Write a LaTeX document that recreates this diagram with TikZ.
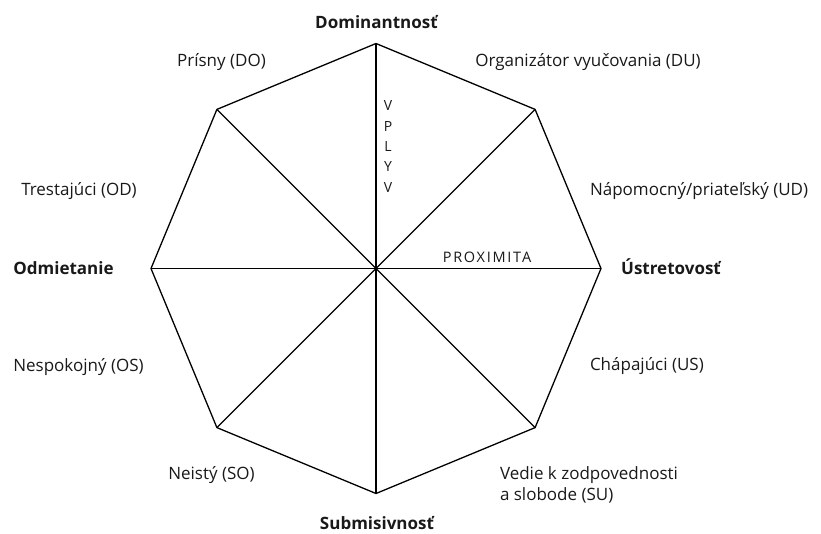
\documentclass[tikz,border=0pt]{standalone}
\usepackage{fontspec}
\setmainfont{Open Sans}
\newfontfamily\spacedfont[LetterSpace=12]{Open Sans}
\begin{document}
\begin{tikzpicture}[x=1pt,y=-1pt,
  edge/.style={line width=1.3pt,draw=black},
  lbl/.style={inner sep=0pt,outer sep=0pt,text=black!90,font=\fontsize{17}{21}\selectfont},
  axis/.style={lbl,font=\fontsize{17}{21}\selectfont\bfseries},
  small/.style={inner sep=0pt,outer sep=0pt,text=black!90}]
\useasboundingbox (0,0) rectangle (821,533);
\coordinate (c) at (376,268.5);
\coordinate (v0) at (601,268.5);
\coordinate (v1) at (535.1,109.4);
\coordinate (v2) at (376,43.5);
\coordinate (v3) at (216.9,109.4);
\coordinate (v4) at (151,268.5);
\coordinate (v5) at (216.9,427.6);
\coordinate (v6) at (376,493.5);
\coordinate (v7) at (535.1,427.6);
\draw[edge,line join=miter] (v0)--(v1)--(v2)--(v3)--(v4)--(v5)--(v6)--(v7)--cycle;
\foreach \i in {0,...,7}{\draw[edge] (c)--(v\i);}
% axis labels
\node[axis,anchor=base] (dom) at (376.5,28) {Dominantnosť};
\node[axis,anchor=base] (sub) at (377,529) {Submisivnosť};
\node[axis,anchor=base] (odm) at (63.5,274) {Odmietanie};
\node[axis,anchor=base] (ust) at (671,274) {Ústretovosť};
% octant labels
\node[lbl,anchor=base] (do) at (221.5,66) {Prísny (DO)};
\node[lbl,anchor=base] (du) at (588,66) {Organizátor vyučovania (DU)};
\node[lbl,anchor=base] (od) at (79,195) {Trestajúci (OD)};
\node[lbl,anchor=base west] (ud) at (590,195) {Nápomocný/priateľský (UD)};
\node[lbl,anchor=base] (os) at (78.5,371) {Nespokojný (OS)};
\node[lbl,anchor=base west] (us) at (590,370) {Chápajúci (US)};
\node[lbl,anchor=base] (so) at (211.5,479) {Neistý (SO)};
\node[lbl,anchor=base west,align=left] (su) at (500,500) {Vedie k zodpovednosti\\a slobode (SU)};
% axis names
\node[small,anchor=base,font=\spacedfont\fontsize{14.5}{18}\selectfont] (prox) at (487,262) {PROXIMITA};
\node[small,anchor=base,align=center,font=\fontsize{14}{20.3}\selectfont] (vplyv) at (388,192) {V\\P\\L\\Y\\V};
\end{tikzpicture}
\end{document}
